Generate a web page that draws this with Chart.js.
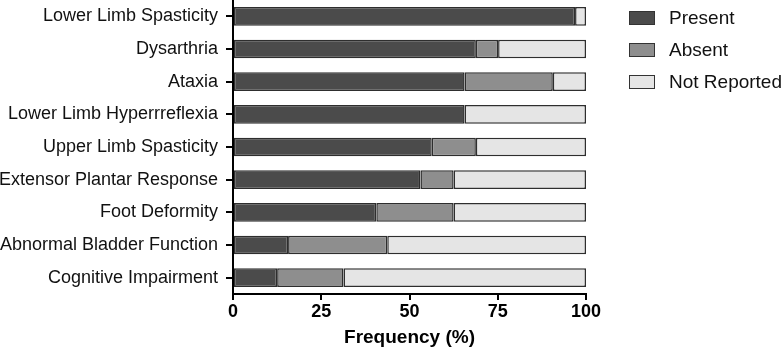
<!DOCTYPE html>
<html lang="en">
<head>
  <meta charset="UTF-8">
  <title>Frequency of Clinical Features</title>
  <script src="https://cdn.jsdelivr.net/npm/chart.js"></script>
  <style>
    * {
      margin: 0;
      padding: 0;
      box-sizing: border-box;
    }
    body {
      background: #ffffff;
      font-family: Arial, "Liberation Sans", sans-serif;
    }
    .wrap {
      position: relative;
      width: 784px;
      height: 349px;
    }
    .legend {
      position: absolute;
      left: 629px;
      top: 2px;
    }
    .legend-item {
      display: flex;
      align-items: center;
      height: 32px;
      font-size: 19px;
      color: #111;
    }
    .legend-box {
      width: 26px;
      height: 14px;
      border: 1.5px solid #333;
      margin-right: 14px;
    }
  </style>
</head>
<body>
  <div class="wrap">
    <canvas id="featureChart" width="784" height="349"></canvas>
    <div class="legend" id="legend"></div>
  </div>

  <script>
    const categories = [
      'Lower Limb Spasticity',
      'Dysarthria',
      'Ataxia',
      'Lower Limb Hyperrreflexia',
      'Upper Limb Spasticity',
      'Extensor Plantar Response',
      'Foot Deformity',
      'Abnormal Bladder Function',
      'Cognitive Impairment'
    ];
    const present     = [96.9, 68.8, 65.6, 65.6, 56.3, 53.1, 40.6, 15.6, 12.5];
    const absent      = [0, 6.3, 25.0, 0, 12.5, 9.4, 21.9, 28.1, 18.8];
    const notReported = [3.1, 24.9, 9.4, 34.4, 31.2, 37.5, 37.5, 56.3, 68.7];
    const xTicks = [0, 25, 50, 75, 100];

    const seriesNames = ['Present', 'Absent', 'Not Reported'];
    const seriesColors = ['#4b4b4b', '#8e8e8e', '#e5e5e5'];
    const seriesData = [present, absent, notReported];

    const datasets = seriesNames.map((name, i) => ({
      label: name,
      data: seriesData[i],
      backgroundColor: seriesColors[i],
      borderColor: '#2e2e2e',
      borderWidth: 1.5,
      borderSkipped: false,
      categoryPercentage: 1,
      barPercentage: 0.57
    }));

    // html legend
    const legendEl = document.getElementById('legend');
    seriesNames.forEach((name, i) => {
      const item = document.createElement('div');
      item.className = 'legend-item';
      const box = document.createElement('span');
      box.className = 'legend-box';
      box.style.background = seriesColors[i];
      const txt = document.createElement('span');
      txt.textContent = name;
      item.appendChild(box);
      item.appendChild(txt);
      legendEl.appendChild(item);
    });

    const ctx = document.getElementById('featureChart').getContext('2d');
    new Chart(ctx, {
      type: 'bar',
      data: { labels: categories, datasets: datasets },
      options: {
        indexAxis: 'y',
        responsive: false,
        animation: false,
        layout: {
          padding: { left: 0, right: 198, top: 0, bottom: 0 }
        },
        plugins: {
          legend: { display: false },
          tooltip: { enabled: false }
        },
        scales: {
          x: {
            stacked: true,
            min: 0,
            max: 100,
            afterBuildTicks: scale => {
              scale.ticks = xTicks.map(v => ({ value: v }));
            },
            afterFit: scale => { scale.height = 55; },
            grid: {
              drawOnChartArea: false,
              color: '#000',
              lineWidth: 2,
              tickLength: 6
            },
            border: { color: '#000', width: 2 },
            ticks: {
              color: '#000',
              padding: 1,
              font: { family: 'Arial, "Liberation Sans", sans-serif', size: 18, weight: 'bold' }
            },
            title: {
              display: true,
              text: 'Frequency (%)',
              color: '#000',
              padding: { top: 0, bottom: 0 },
              font: { family: 'Arial, "Liberation Sans", sans-serif', size: 19, weight: 'bold' }
            }
          },
          y: {
            stacked: true,
            afterFit: scale => {
              scale.width = 233;
              // no extra room for half labels, the bands are already offset
              scale.paddingTop = 0;
              scale.paddingBottom = 0;
            },
            grid: {
              drawOnChartArea: false,
              offset: false,
              color: '#000',
              lineWidth: 2,
              tickLength: 7
            },
            border: { color: '#000', width: 2 },
            ticks: {
              color: '#111',
              padding: 8,
              font: { family: 'Arial, "Liberation Sans", sans-serif', size: 18 }
            }
          }
        }
      }
    });
  </script>
</body>
</html>
